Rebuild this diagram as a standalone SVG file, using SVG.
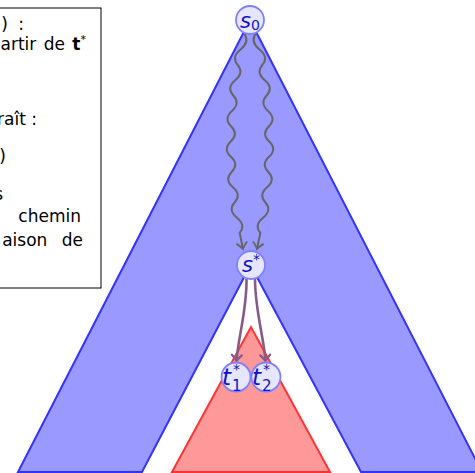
<svg xmlns="http://www.w3.org/2000/svg" width="475" height="473" viewBox="0 0 475 473">
<style>
.blue{fill:#9999ff;stroke:#3333ff;stroke-width:2;stroke-linejoin:miter}
.red{fill:#ff9999;stroke:#ff3333;stroke-width:2}
.node circle{fill:#e6e6ff;stroke:#8080ff;stroke-width:1.8}
.node text{font-family:"DejaVu Sans",sans-serif;fill:#1111cc;font-style:italic}
.node .lbl{font-size:21px}
.node .tl{font-size:23px}
.node .sm{font-size:14px;font-style:normal}
.node .sub{font-size:15px;font-style:normal}
.snake{fill:none;stroke:#666666;stroke-width:2;marker-end:url(#ag)}
.pur{fill:none;stroke:#875a87;stroke-width:2.6;marker-end:url(#ap)}
.box text{font-family:"DejaVu Sans",sans-serif;font-size:17px;fill:#000;text-anchor:end}
</style>
<defs>
<marker id="ag" markerUnits="userSpaceOnUse" markerWidth="14" markerHeight="14" refX="0" refY="0" viewBox="-8 -7 10 14" orient="auto">
<path d="M-6,-5 Q-2,-1 0,0 Q-2,1 -6,5" fill="none" stroke="#666666" stroke-width="1.8" stroke-linecap="round"/>
</marker>
<marker id="ap" markerUnits="userSpaceOnUse" markerWidth="14" markerHeight="14" refX="0" refY="0" viewBox="-8 -7 10 14" orient="auto">
<path d="M-6,-5 Q-2,-1 0,0 Q-2,1 -6,5" fill="none" stroke="#875a87" stroke-width="2.2" stroke-linecap="round"/>
</marker>
</defs>
<g id="shapes">
<path class="blue" d="M250,20 L18,472 L142,472 L250.5,265 L361,472 L482,472 Z"/>
<path class="red" d="M251,327 L172,472 L330,472 Z"/>
</g>
<g id="box" class="box">
<rect x="-1" y="8" width="102" height="280" fill="#ffffff" stroke="#000000" stroke-width="1"/>
<text x="24" y="29.5" word-spacing="5">) :</text>
<text x="86" y="49.5" word-spacing="2">artir de <tspan font-weight="bold">t</tspan><tspan font-size="11" dy="-7">*</tspan></text>
<text x="37" y="125" font-size="16">raît :</text>
<text x="6" y="162" font-size="24">)</text>
<text x="3" y="200">s</text>
<text x="81" y="222">chemin</text>
<text x="83" y="246" word-spacing="9">aison de</text>
</g>
<g id="connectors">
<path class="snake" d="M244,33 Q250.21,41.71 240.55,49.42 Q231.01,57.12 237.61,64.82 Q244.34,72.51 235.20,80.20 Q226.19,87.88 233.31,95.55 Q240.55,103.22 231.93,110.88 Q223.44,118.55 231.08,126.20 Q238.85,133.86 230.75,141.5 Q222.78,149.14 230.94,156.78 Q239.23,164.40 231.65,172.03 Q224.20,179.65 232.88,187.27 Q241.69,194.88 234.63,202.48 Q227.70,210.08 236.90,217.67 Q246.23,225.27 239.69,232.85 L243,249"/>
<path class="snake" d="M256,33 Q249.79,41.71 259.45,49.42 Q268.99,57.12 262.39,64.82 Q255.66,72.51 264.80,80.20 Q273.81,87.88 266.69,95.55 Q259.45,103.22 268.07,110.88 Q276.56,118.55 268.92,126.20 Q261.15,133.86 269.25,141.5 Q277.22,149.14 269.06,156.78 Q260.77,164.40 268.35,172.03 Q275.80,179.65 267.12,187.27 Q258.31,194.88 265.37,202.48 Q272.30,210.08 263.10,217.67 Q253.77,225.27 260.31,232.85 L257,249"/>
<path class="pur" d="M246.5,279 C247,310 238,338 236.5,361"/>
<path class="pur" d="M255,279 C255,310 264,338 265.5,361"/>
</g>
<g id="s0" class="node">
<circle cx="250" cy="20" r="14"/>
<text x="250" y="28" text-anchor="middle"><tspan class="lbl">s</tspan><tspan class="sm" dy="2">0</tspan></text>
</g>
<g id="sstar" class="node">
<circle cx="251" cy="265" r="14"/>
<text x="251" y="272" text-anchor="middle"><tspan class="lbl">s</tspan><tspan class="sm" dy="-8">*</tspan></text>
</g>
<g id="t1" class="node">
<circle cx="236" cy="377" r="14.5"/>
<text x="222" y="385" class="tl">t</text>
<text x="232" y="391" class="sub">1</text>
<text x="233" y="374" class="sm">*</text>
</g>
<g id="t2" class="node">
<circle cx="266" cy="377" r="14.5"/>
<text x="252" y="385" class="tl">t</text>
<text x="262" y="391" class="sub">2</text>
<text x="263" y="374" class="sm">*</text>
</g>
</svg>
